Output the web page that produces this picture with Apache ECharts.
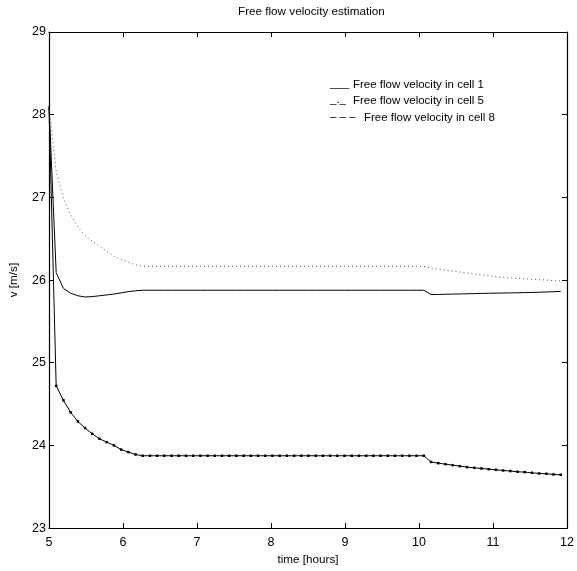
<!DOCTYPE html>
<html><head><meta charset="utf-8">
<script src="https://cdn.jsdelivr.net/npm/echarts@6/dist/echarts.min.js"></script>
<style>html,body{margin:0;padding:0;background:#fff}#c{width:577px;height:571px}</style>
</head><body><div id="c"></div>
<script>
const times = [5.000,5.097,5.195,5.292,5.390,5.487,5.584,5.682,5.779,5.877,5.974,6.071,6.169,6.266,6.364,6.461,6.558,6.656,6.753,6.851,6.948,7.045,7.143,7.240,7.338,7.435,7.532,7.630,7.727,7.825,7.922,8.019,8.117,8.214,8.312,8.409,8.506,8.604,8.701,8.799,8.896,8.993,9.091,9.188,9.286,9.383,9.480,9.578,9.675,9.773,9.870,9.967,10.065,10.162,10.260,10.357,10.454,10.552,10.649,10.747,10.844,10.941,11.039,11.136,11.234,11.331,11.428,11.526,11.623,11.721,11.818,11.915];
const cell1 = [28.1,26.09,25.90,25.84,25.81,25.795,25.80,25.81,25.82,25.83,25.845,25.86,25.87,25.877,
25.877,25.877,25.877,25.877,25.877,25.877,25.877,25.877,25.877,25.877,25.877,25.877,25.877,25.877,25.877,25.877,25.877,25.877,25.877,25.877,25.877,25.877,25.877,25.877,25.877,25.877,25.877,25.877,25.877,25.877,25.877,25.877,25.877,25.877,25.877,25.877,25.877,25.877,25.877,
25.825,25.826,25.828,25.830,25.832,25.834,25.836,25.838,25.840,25.842,25.843,25.845,25.846,25.848,25.850,25.853,25.856,25.859,25.863];
const cell5 = [28.1,24.72,24.545,24.40,24.29,24.21,24.14,24.08,24.04,24.00,23.95,23.92,23.89,23.875,
23.875,23.875,23.875,23.875,23.875,23.875,23.875,23.875,23.875,23.875,23.875,23.875,23.875,23.875,23.875,23.875,23.875,23.875,23.875,23.875,23.875,23.875,23.875,23.875,23.875,23.875,23.875,23.875,23.875,23.875,23.875,23.875,23.875,23.875,23.875,23.875,23.875,23.875,23.875,
23.80,23.785,23.773,23.761,23.749,23.737,23.729,23.721,23.713,23.705,23.697,23.69,23.681,23.677,23.669,23.661,23.657,23.649,23.645];
const cell8 = [28.1,27.31,26.99,26.79,26.64,26.54,26.47,26.41,26.345,26.29,26.25,26.215,26.185,26.165,
26.165,26.165,26.165,26.165,26.165,26.165,26.165,26.165,26.165,26.165,26.165,26.165,26.165,26.165,26.165,26.165,26.165,26.165,26.165,26.165,26.165,26.165,26.165,26.165,26.165,26.165,26.165,26.165,26.165,26.165,26.165,26.165,26.165,26.165,26.165,26.165,26.165,26.165,26.165,
26.145,26.133,26.12,26.108,26.097,26.085,26.073,26.061,26.05,26.04,26.031,26.025,26.02,26.015,26.01,26.005,26.0,25.993,25.987];
const xTicks = [5,6,7,8,9,10,11,12];
const yTicks = [23,24,25,26,27,28,29];
const titleText = 'Free flow velocity estimation';
const xLabel = 'time [hours]';
const yLabel = 'v [m/s]';
const legendPrefixes = ['___', '_._', '– – –'];
const legendTexts = ['Free flow velocity in cell 1','Free flow velocity in cell 5','Free flow velocity in cell 8'];

const pair = v => times.map((t,i)=>[t,v[i]]);
const FONT = 'Liberation Sans, Arial, sans-serif';
const chart = echarts.init(document.getElementById('c'));
const axisCommon = {
  axisLine:{show:true,lineStyle:{color:'#000',width:1.2}},
  axisTick:{show:true,inside:true,length:5,lineStyle:{color:'#000'}},
  splitLine:{show:false}
};
const legY = [86, 102, 119];
const legTextX = [353, 353, 364];
const graphics = [];
legendTexts.forEach((t,i)=>{
  graphics.push({type:'text',left:330,top:legY[i]-8,style:{text:legendPrefixes[i],font:'11.5px '+FONT,fill:'#000'}});
  graphics.push({type:'text',left:legTextX[i],top:legY[i]-7,style:{text:t,font:'11.5px '+FONT,fill:'#000'}});
});
graphics.push({type:'text',left:238,top:6,style:{text:titleText,font:'11.7px '+FONT,fill:'#000'}});
const markerData = pair(cell5).map((p,i)=> i===0 ? {value:p,symbolSize:0} : p);
chart.setOption({
  animation:false,
  backgroundColor:'#fff',
  grid:{left:45,right:5,top:32,bottom:37},
  xAxis:[
    Object.assign({type:'value',min:5,max:12,interval:1,position:'bottom',
      name:xLabel,nameLocation:'middle',nameGap:25,nameTextStyle:{fontFamily:FONT,fontSize:11.7,color:'#000'},
      axisLabel:{fontFamily:FONT,fontSize:12.5,color:'#000',margin:8}},axisCommon),
    Object.assign({type:'value',min:5,max:12,interval:1,position:'top',axisLabel:{show:false}},axisCommon)
  ],
  yAxis:[
    Object.assign({type:'value',min:23,max:29,interval:1,position:'left',
      name:yLabel,nameLocation:'middle',nameGap:29,nameTextStyle:{fontFamily:FONT,fontSize:11.7,color:'#000'},
      axisLabel:{fontFamily:FONT,fontSize:12.5,color:'#000',margin:3}},axisCommon),
    Object.assign({type:'value',min:23,max:29,interval:1,position:'right',axisLabel:{show:false}},axisCommon)
  ],
  series:[
    {name:legendTexts[0],type:'line',data:pair(cell1),showSymbol:false,symbol:'none',lineStyle:{color:'#000',width:1}},
    {name:legendTexts[1],type:'line',data:markerData,symbol:'rect',symbolSize:2.5,showSymbol:true,
      itemStyle:{color:'#000'},lineStyle:{color:'#000',width:1}},
    {name:legendTexts[2],type:'line',data:pair(cell8),showSymbol:false,symbol:'none',
      lineStyle:{color:'#555',width:1,type:[1,3]}}
  ],
  graphic:graphics
});
</script></body></html>
